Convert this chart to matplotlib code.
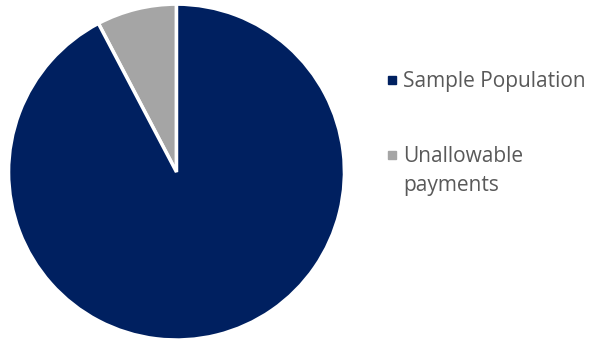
import matplotlib.pyplot as plt
from matplotlib.patches import Rectangle

labels = ['Sample Population', 'Unallowable\npayments']
values = [92.3, 7.7]
colors = ['#002060', '#A5A5A5']

fig = plt.figure(figsize=(5.9, 3.41), dpi=100)
ax = fig.add_axes([0.0144, 0.0029, 0.5695, 0.985])
# gray slice first so it sits just left of 12 o'clock
ax.pie(values[::-1], colors=colors[::-1], startangle=90, counterclock=True,
       wedgeprops=dict(edgecolor='white', linewidth=2.5))
ax.set_xlim(-1, 1)
ax.set_ylim(-1, 1)
ax.set_aspect('equal')

# legend drawn by hand so the marker lines up with the first text line
marker_y = [80, 155]
last_baseline = [87, 191]
for lab, col, my, by in zip(labels, colors, marker_y, last_baseline):
    fig.patches.append(Rectangle((388 / 590, 1 - (my + 4) / 341), 8 / 590, 8 / 341,
                                 transform=fig.transFigure, color=col))
    fig.text(403 / 590, 1 - by / 341, lab, ha='left', va='baseline', fontsize=15,
             family='Open Sans', color='#595959', linespacing=1.52)

fig.savefig('out.png', dpi=100)
